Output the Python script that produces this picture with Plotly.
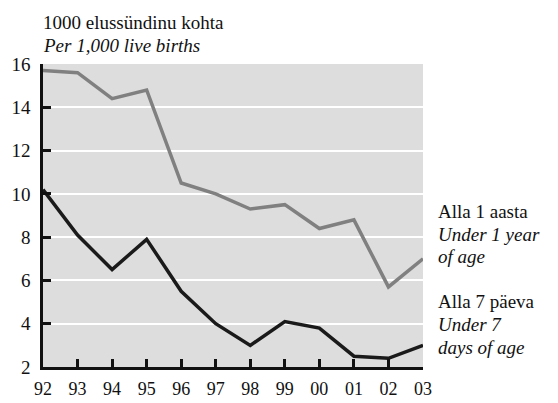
import plotly.graph_objects as go

years = ["92", "93", "94", "95", "96", "97", "98", "99", "00", "01", "02", "03"]
under_1_year = [15.7, 15.6, 14.4, 14.8, 10.5, 10.0, 9.3, 9.5, 8.4, 8.8, 5.7, 7.0]
under_7_days = [10.2, 8.1, 6.5, 7.9, 5.5, 4.0, 3.0, 4.1, 3.8, 2.5, 2.4, 3.0]
y_ticks = [2, 4, 6, 8, 10, 12, 14, 16]

xs = list(range(len(years)))
FONT = "Liberation Serif"

fig = go.Figure()
fig.add_trace(go.Scatter(x=xs, y=under_1_year, mode="lines",
                         line=dict(color="#808080", width=3.5), hoverinfo="skip"))
fig.add_trace(go.Scatter(x=xs, y=under_7_days, mode="lines",
                         line=dict(color="#1a1a1a", width=3.5), hoverinfo="skip"))

L, R, T, B = 43, 135, 64, 36
W, H = 558, 403
ph = H - T - B

def py(pix):
    return (H - B - pix) / ph

def px(pix):
    return (pix - L) / (W - L - R)

annos = [
    (41, 22, "1000 elussündinu kohta"),
    (41, 46, "<i>Per 1,000 live births</i>"),
    (436, 211, "Alla 1 aasta"),
    (436, 234, "<i>Under 1 year</i>"),
    (436, 256, "<i>of age</i>"),
    (436, 301, "Alla 7 päeva"),
    (436, 324, "<i>Under 7</i>"),
    (436, 347, "<i>days of age</i>"),
]
for x0, y0, txt in annos:
    fig.add_annotation(x=px(x0), y=py(y0), xref="paper", yref="paper",
                       text=txt, showarrow=False, xanchor="left", yanchor="middle",
                       font=dict(family=FONT, size=19, color="#111111"))

fig.update_layout(
    width=W, height=H,
    margin=dict(l=L, r=R, t=T, b=B, pad=0, autoexpand=False),
    paper_bgcolor="white", plot_bgcolor="#dddddd",
    showlegend=False,
    font=dict(family=FONT, size=19, color="#111111"),
)
fig.update_xaxes(range=[0, 11], tickmode="array", tickvals=xs, ticktext=years,
                 showgrid=False, zeroline=False, showline=True, linecolor="#111111",
                 linewidth=2.5, ticks="inside", ticklen=8, tickwidth=2.5,
                 tickcolor="#111111", tickfont=dict(family=FONT, size=18),
                 ticklabelstandoff=4, automargin=False, fixedrange=True)
fig.update_yaxes(range=[2, 16], tickmode="array", tickvals=y_ticks,
                 showgrid=True, gridcolor="white", gridwidth=1.5, zeroline=False,
                 showline=True, linecolor="#111111", linewidth=2.5,
                 ticks="inside", ticklen=8, tickwidth=2.5, tickcolor="#111111",
                 tickfont=dict(family=FONT, size=19), ticklabelstandoff=6,
                 automargin=False, fixedrange=True)

fig.write_html("out.html", config={"displayModeBar": False},
               post_script="document.body.style.margin='0';document.body.style.overflow='hidden';")
